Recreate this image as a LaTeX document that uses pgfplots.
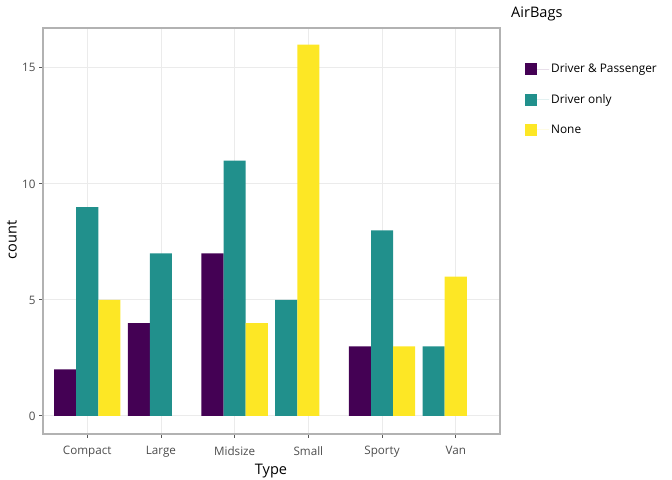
\documentclass[border=0pt]{standalone}
\usepackage{pgfplots}
\pgfplotsset{compat=1.18}
\usepackage{fontspec}
\setmainfont{Open Sans}
\definecolor{dp}{HTML}{440154}
\definecolor{dro}{HTML}{21908C}
\definecolor{non}{HTML}{FDE725}
\definecolor{txt}{HTML}{4D4D4D}
\definecolor{grd}{HTML}{EBEBEB}
\begin{document}
\begin{tikzpicture}[x=1bp,y=1bp]
\path[use as bounding box] (0,0) rectangle (672,480);
\begin{axis}[
  at={(43bp,46bp)}, anchor=south west,
  scale only axis, width=457bp, height=406bp,
  xmin=-0.6, xmax=5.6, ymin=-0.78, ymax=16.72,
  xtick={0,...,5},
  xticklabels={Compact,Large,Midsize,Small,Sporty,Van},
  ytick={0,5,10,15},
  grid=major, major grid style={grd, line width=0.8bp},
  axis line style={black!30, line width=1.2bp},
  tick align=outside, tick pos=left, major tick length=4bp,
  tick style={black!65, line width=0.8bp},
  ticklabel style={font=\fontsize{11.7}{13}\selectfont, text=txt},
  xticklabel style={yshift=-5bp},
  /pgf/number format/assume math mode=true,
  xlabel={Type}, ylabel={count},
  label style={font=\fontsize{14.6}{16}\selectfont},
  xlabel style={at={(axis description cs:0.499,-0.0905)}, anchor=center},
  ylabel style={at={(axis description cs:-0.0678,0.478)}, anchor=center},
  ybar, bar width=0.3,
  legend style={at={(1.048,0.921)}, anchor=north west, draw=none, fill=none,
    font=\fontsize{11.9}{13}\selectfont, row sep=16bp,
    cells={anchor=west}},
  legend image code/.code={\fill[#1] (0bp,-6bp) rectangle (12bp,6bp); \path (0bp,0bp) -- (24bp,0bp);},
]
% Driver & Passenger
\addplot[fill=dp, draw=none, bar shift=0pt] coordinates {(-0.3,2) (0.7,4) (1.7,7) (3.7,3)};
\addlegendentry{Driver \& Passenger}
% Driver only
\addplot[fill=dro, draw=none, bar shift=0pt] coordinates {(0,9) (1,7) (2,11) (2.7,5) (4,8) (4.7,3)};
\addlegendentry{Driver only}
% None
\addplot[fill=non, draw=none, bar shift=0pt] coordinates {(0.3,5) (2.3,4) (3,16) (4.3,3) (5,6)};
\addlegendentry{None}
\end{axis}
\node[anchor=west, inner sep=0pt, font=\fontsize{14.6}{16}\selectfont] at (511,466) {AirBags};
\end{tikzpicture}
\end{document}
